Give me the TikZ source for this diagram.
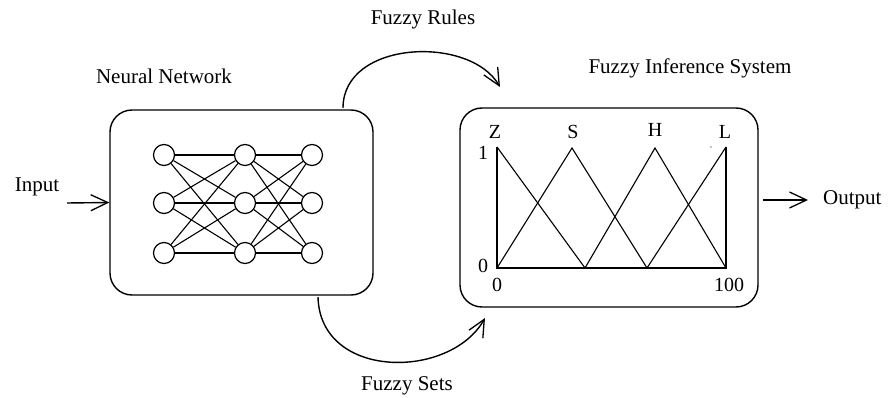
\documentclass[tikz,border=0pt]{standalone}
\usepackage{fontspec}
\setmainfont{Liberation Serif}
\usetikzlibrary{arrows.meta}
\begin{document}
\begin{tikzpicture}[x=1pt,y=-1pt,
  lbl/.style={font=\fontsize{21}{24}\selectfont, inner sep=0pt},
  plbl/.style={font=\fontsize{20}{22}\selectfont, inner sep=0pt},
  box/.style={draw, line width=1.4pt, rounded corners=22pt, inner sep=0pt},
  neuron/.style={draw, circle, line width=1.2pt, minimum size=21pt, inner sep=0pt},
  link/.style={line width=1.1pt},
  arr/.style={line width=1.4pt, -{Straight Barb[length=17pt,width=16pt,line width=1.3pt]}},
  curve/.style={line width=1.4pt, -{Straight Barb[length=17pt,width=16pt,line width=1.3pt]}}
]
\useasboundingbox (0,0) rectangle (888,398);

% boxes
\node[box, minimum width=263pt, minimum height=185pt] (nn) at (241.5,202.5) {};
\node[box, minimum width=298pt, minimum height=199pt] (fis) at (609,207.5) {};

% titles
\node[lbl] (tnn) at (164,76) {Neural Network};
\node[lbl] (tfis) at (690,68) {Fuzzy Inference System};
\node[lbl] (trules) at (423,19) {Fuzzy Rules};
\node[lbl] (tsets) at (407,386) {Fuzzy Sets};
\node[lbl] (tin) at (37,187) {Input};
\node[lbl, anchor=west] (tout) at (823,200) {Output};

% input / output arrows
\coordinate (instart) at (67,203);
\draw[arr] (instart) -- (nn.west);
\coordinate (outstart) at (763,200);
\coordinate (outend) at (808,200);
\draw[arr] (outstart) -- (outend);

% curved connectors
\coordinate (rs) at (343,108);
\coordinate (re) at (500,87);
\draw[curve] (rs) .. controls (343,40) and (470,35) .. (re);
\coordinate (ss) at (318,297);
\coordinate (se) at (485,318);
\draw[curve] (ss) .. controls (320,380) and (450,380) .. (se);

% neurons
\foreach \c/\x in {1/164,2/245,3/312}{
  \foreach \r/\y in {1/155,2/203,3/253}{
    \node[neuron] (n\c\r) at (\x,\y) {};
  }
}
\foreach \a in {1,2,3}{
  \foreach \b in {1,2,3}{
    \draw[link] (n1\a) -- (n2\b);
    \draw[link] (n2\a) -- (n3\b);
  }
}

% membership functions
\draw[line width=1.3pt] (497,147) -- (497,268) -- (726,268) -- (726,147);
\draw[line width=1.1pt] (497,147) -- (585,268);
\draw[line width=1.1pt] (497,268) -- (572,148) -- (647,268);
\draw[line width=1.1pt] (585,268) -- (655,148) -- (726,268);
\draw[line width=1.1pt] (647,268) -- (726,147);
\fill (711,147) circle (0.6pt);

\node[plbl] (lz) at (495,132) {Z};
\node[plbl] (ls) at (573,132) {S};
\node[plbl] (lh) at (655,130) {H};
\node[plbl] (ll) at (725,132) {L};
\node[plbl] (y1) at (483,153) {1};
\node[plbl] (y0) at (483,266) {0};
\node[plbl] (x0) at (497,285) {0};
\node[plbl] (x100) at (729,285) {100};
\end{tikzpicture}
\end{document}
